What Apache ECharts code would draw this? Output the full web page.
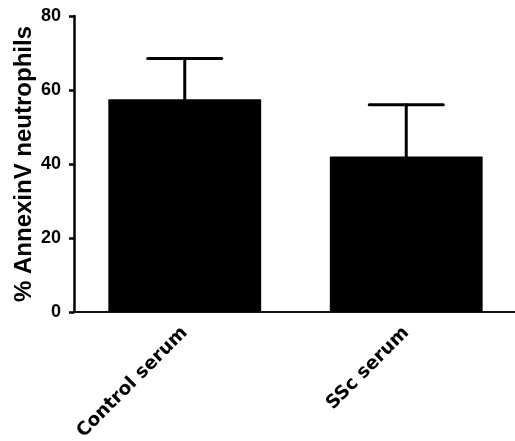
<!DOCTYPE html>
<html>
<head>
<meta charset="utf-8">
<script src="https://cdn.jsdelivr.net/npm/echarts@6/dist/echarts.min.js"></script>
<style>
  html, body { margin: 0; padding: 0; background: #fff; }
  #chart { width: 515px; height: 441px; }
</style>
</head>
<body>
<div id="chart"></div>
<script>
// Group labels, means and standard deviations
const categories = ['Control serum', 'SSc serum'];
const means = [57.5, 42.0];
const errors = [11.0, 14.0];
const yTicks = [0, 20, 40, 60, 80];

const chart = echarts.init(document.getElementById('chart'));

const errorData = categories.map((c, i) => [i, means[i], errors[i]]);

chart.setOption({
  animation: false,
  grid: { left: 74, right: -2, top: 16, bottom: 129, containLabel: false, outerBoundsMode: 'none' },
  xAxis: {
    type: 'category',
    data: categories,
    axisLine: { lineStyle: { color: '#111', width: 2 } },
    axisTick: { show: false },
    axisLabel: {
      rotate: 45,
      margin: 18,
      color: '#000',
      fontFamily: 'DejaVu Sans',
      fontWeight: 'bold',
      fontSize: 18.5
    }
  },
  yAxis: {
    type: 'value',
    min: yTicks[0],
    max: yTicks[yTicks.length - 1],
    interval: 20,
    name: '% AnnexinV neutrophils',
    nameLocation: 'middle',
    nameRotate: 90,
    nameGap: 38,
    nameMoveOverlap: false,
    nameTextStyle: {
      color: '#000',
      fontFamily: 'Liberation Sans',
      fontWeight: 'bold',
      fontSize: 24
    },
    splitLine: { show: false },
    axisLine: { show: true, lineStyle: { color: '#000', width: 2.5 } },
    axisTick: { show: true, length: 5, lineStyle: { color: '#000', width: 2.5 } },
    axisLabel: {
      margin: 13,
      color: '#000',
      fontFamily: 'Liberation Sans',
      fontWeight: 'bold',
      fontSize: 18
    }
  },
  series: [
    {
      type: 'bar',
      data: means,
      barCategoryGap: '31%',
      itemStyle: { color: '#000', borderRadius: 1 },
      z: 2
    },
    {
      type: 'custom',
      data: errorData,
      z: 3,
      renderItem: function (params, api) {
        const x = api.value(0);
        const m = api.value(1);
        const e = api.value(2);
        const base = api.coord([x, m]);
        const top = api.coord([x, m + e]);
        const half = 37;
        const style = { stroke: '#000', lineWidth: 3, lineCap: 'round' };
        return {
          type: 'group',
          children: [
            { type: 'line', shape: { x1: base[0], y1: base[1], x2: top[0], y2: top[1] }, style: style },
            { type: 'line', shape: { x1: top[0] - half, y1: top[1], x2: top[0] + half, y2: top[1] }, style: style }
          ]
        };
      }
    }
  ]
});
</script>
</body>
</html>
